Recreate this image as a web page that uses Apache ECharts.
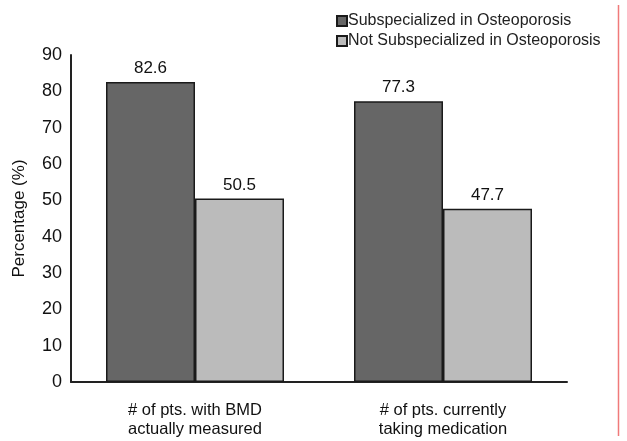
<!DOCTYPE html>
<html>
<head>
<meta charset="utf-8">
<script src="https://cdn.jsdelivr.net/npm/echarts@6/dist/echarts.min.js"></script>
<style>
  html, body { margin: 0; padding: 0; background: #fff; }
  #chart { width: 627px; height: 441px; }
</style>
</head>
<body>
<div id="chart"></div>
<script>
// Categories and percentages for each group
const categories = ['# of pts. with BMD\nactually measured', '# of pts. currently\ntaking medication'];
const subspecialized = [82.6, 77.3];
const notSubspecialized = [50.5, 47.7];
const seriesNames = ['Subspecialized in Osteoporosis', 'Not Subspecialized in Osteoporosis'];
const yTicks = { min: 0, max: 90, interval: 10 };

const chart = echarts.init(document.getElementById('chart'));
const font = 'Liberation Sans, Arial, sans-serif';

const barLabel = {
  show: true,
  position: 'top',
  color: '#111',
  fontFamily: font,
  fontSize: 17,
  distance: 5,
  formatter: p => p.value.toFixed(1)
};

chart.setOption({
  animation: false,
  backgroundColor: '#fff',
  grid: { left: 71, right: 60, top: 55, bottom: 59, containLabel: false },
  legend: {
    orient: 'vertical',
    left: 331,
    top: 8,
    itemWidth: 10,
    itemHeight: 10,
    itemGap: 4,
    icon: 'rect',
    textStyle: { fontFamily: font, fontSize: 16, color: '#222', padding: [0, 0, 0, -4] },
    data: seriesNames
  },
  xAxis: {
    type: 'category',
    data: categories,
    axisLine: { lineStyle: { color: '#222', width: 2 } },
    axisTick: { show: false },
    axisLabel: { color: '#111', fontFamily: font, fontSize: 16.5, lineHeight: 19, margin: 19 }
  },
  yAxis: {
    type: 'value',
    min: yTicks.min,
    max: yTicks.max,
    interval: yTicks.interval,
    name: 'Percentage (%)',
    nameLocation: 'middle',
    nameGap: 43,
    nameTextStyle: { fontFamily: font, fontSize: 17, color: '#111' },
    axisLine: { show: true, lineStyle: { color: '#222', width: 2 } },
    axisTick: { show: false },
    splitLine: { show: false },
    axisLabel: { color: '#111', fontFamily: font, fontSize: 18, margin: 9 }
  },
  series: [
    {
      name: seriesNames[0],
      type: 'bar',
      data: subspecialized,
      barWidth: 89,
      barGap: '0%',
      itemStyle: { color: '#666666', borderColor: '#1a1a1a', borderWidth: 1.5 },
      label: barLabel
    },
    {
      name: seriesNames[1],
      type: 'bar',
      data: notSubspecialized,
      barWidth: 89,
      itemStyle: { color: '#bbbbbb', borderColor: '#1a1a1a', borderWidth: 1.5 },
      label: barLabel
    }
  ],
  graphic: [
    {
      type: 'line',
      shape: { x1: 618.5, y1: 5, x2: 618.5, y2: 436 },
      style: { stroke: '#f07a7a', lineWidth: 1.5 }
    }
  ]
});
</script>
</body>
</html>
